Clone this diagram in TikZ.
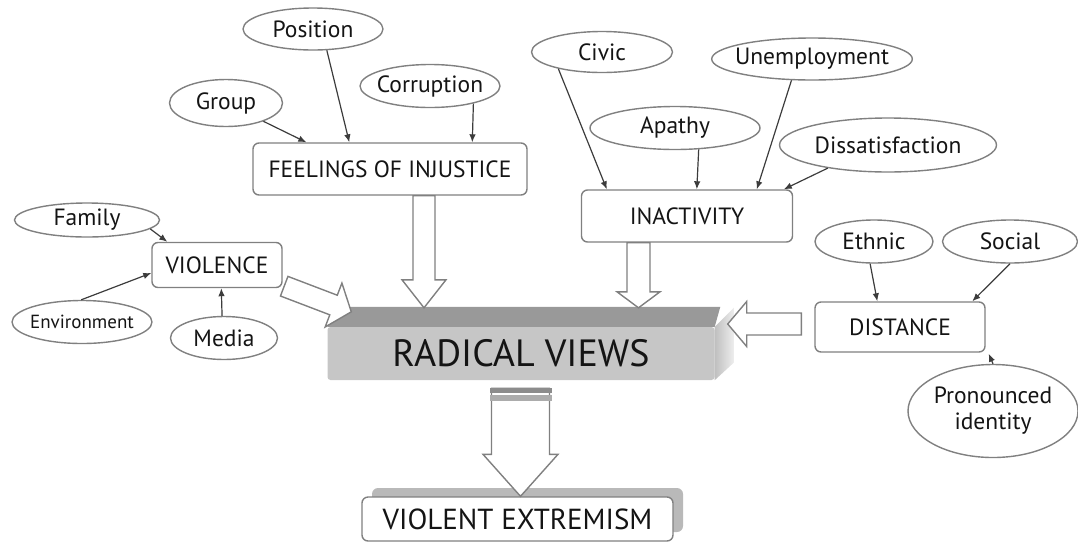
\documentclass[tikz,border=0pt]{standalone}
\usepackage{fontspec}
\setmainfont{PT Sans}
\usepackage{tikz}
\usetikzlibrary{arrows.meta,positioning,calc,shapes.geometric,shadows}
\definecolor{ink}{HTML}{141414}
\definecolor{edge}{HTML}{808080}
\definecolor{wire}{HTML}{3C3C3C}
\newcommand{\fatarrow}[5]{% from, to, half shaft, half head, head length
  \draw[hollow] let \p1=(#1), \p2=(#2),
    \n1={atan2(\y2-\y1,\x2-\x1)}, \n2={veclen(\x2-\x1,\y2-\y1)} in
    ([shift={(\p1)},rotate=\n1]0,#3) -- ([shift={(\p1)},rotate=\n1]\n2-#5,#3)
    -- ([shift={(\p1)},rotate=\n1]\n2-#5,#4) -- ([shift={(\p1)},rotate=\n1]\n2,0)
    -- ([shift={(\p1)},rotate=\n1]\n2-#5,-#4) -- ([shift={(\p1)},rotate=\n1]\n2-#5,-#3)
    -- ([shift={(\p1)},rotate=\n1]0,-#3) -- cycle;}

\begin{document}
\begin{tikzpicture}[
  x=1pt,y=-1pt,
  every node/.style={text=ink,align=center},
  factor/.style={ellipse,draw=edge,line width=1.4pt,fill=white,inner sep=-6pt,font=\fontsize{23.5}{26}\selectfont},
  concept/.style={rectangle,rounded corners=6pt,draw=edge,line width=1.4pt,fill=white,inner sep=0pt,font=\fontsize{23.5}{26}\selectfont},
  arrow/.style={-{Latex[length=8pt,width=6.5pt]},line width=1.2pt,color=wire},
  hollow/.style={draw=edge,line width=1.4pt,fill=white,line join=miter}
]
\useasboundingbox (0,0) rectangle (1078,547);

% central block
\node[rectangle,rounded corners=3pt,fill=gray!45,minimum width=387pt,minimum height=53pt,font=\fontsize{38}{42}\selectfont] (radical) at (521,353.5) {RADICAL VIEWS};
\fill[gray!80] (radical.north west) -- ++(14,-20) -- ++(379,0) -- (radical.north east) -- cycle;
\shade[left color=gray!50,right color=gray!12] (radical.north east) -- ++(20,-20) -- ++(0,55) -- (radical.south east) -- cycle;

% outcome
\node[concept,minimum width=311pt,minimum height=44pt,font=\fontsize{29}{32}\selectfont,
  general shadow={fill=gray!55,draw=none,shadow xshift=10pt,shadow yshift=9pt}] (extrem) at (517.5,519) {VIOLENT EXTREMISM};

% four causes
\node[concept,minimum width=274pt,minimum height=52pt] (feel) at (390,169) {FEELINGS OF INJUSTICE};
\node[concept,minimum width=211pt,minimum height=52pt] (inact) at (687,216) {INACTIVITY};
\node[concept,minimum width=130pt,minimum height=45pt] (viol) at (217,265) {VIOLENCE};
\node[concept,minimum width=170pt,minimum height=50pt] (dist) at (900,327) {DISTANCE};

% factors
\node[factor,minimum width=140pt,minimum height=42pt] (position) at (313,29) {Position};
\node[factor,minimum width=140pt,minimum height=43pt] (corruption) at (430,86) {Corruption};
\node[factor,minimum width=113pt,minimum height=47pt] (group) at (226,103) {Group};
\node[factor,minimum width=141pt,minimum height=41pt] (civic) at (602,52) {Civic};
\node[factor,minimum width=195pt,minimum height=42pt] (unemp) at (812,59) {Unemployment};
\node[factor,minimum width=170pt,minimum height=43pt] (apathy) at (675,128) {Apathy};
\node[factor,minimum width=217pt,minimum height=54pt] (dissat) at (888,145) {Dissatisfaction};
\node[factor,minimum width=145pt,minimum height=34pt] (family) at (87,220) {Family};
\node[factor,minimum width=140pt,minimum height=43pt,font=\fontsize{19}{22}\selectfont] (environ) at (82,322) {Environment};
\node[factor,minimum width=107pt,minimum height=43pt] (media) at (224,338) {Media};
\node[factor,minimum width=118pt,minimum height=43pt] (ethnic) at (874,241.5) {Ethnic};
\node[factor,minimum width=135pt,minimum height=43pt] (social) at (1010,241.5) {Social};
\node[factor,minimum width=170pt,minimum height=93pt] (pronounced) at (993,411) {Pronounced\\identity};

% thin connectors
\draw[arrow] (group) -- ([xshift=54pt]feel.north west);
\draw[arrow] (position.-57) -- ([xshift=97pt]feel.north west);
\draw[arrow] (corruption.-22) -- ([xshift=220pt]feel.north west);
\draw[arrow] (civic.-159) -- ([xshift=26pt]inact.north west);
\draw[arrow] (apathy.-42) -- ([xshift=116pt]inact.north west);
\draw[arrow] (unemp.-134) -- ([xshift=176pt]inact.north west);
\draw[arrow] (dissat.-159) -- ([xshift=203pt]inact.north west);
\draw[arrow] (family.-8) -- ([xshift=16pt]viol.north west);
\draw[arrow] (environ.92) -- ([yshift=-8pt]viol.west);
\draw[arrow] (media.95) -- ([xshift=70pt]viol.south west);
\draw[arrow] (ethnic.-100) -- ([xshift=63pt]dist.north west);
\draw[arrow] (social.-90) -- ([xshift=158pt]dist.north west);
\draw[arrow] (pronounced.north) -- ([xshift=3pt,yshift=-1pt]dist.south east);

% block arrows into and out of the central block
\coordinate (rtop) at ([yshift=19pt]radical.north);
\coordinate (rside) at ([xshift=13pt]radical.east);
\coordinate (fsrc) at ([xshift=34pt]feel.south);
\coordinate (isrc) at ([xshift=-48.5pt]inact.south);
\coordinate (vsrc) at ([xshift=1.5pt,yshift=2pt]viol.south east);
\coordinate (vtip) at ([xshift=24pt,yshift=15pt]radical.north west);
\coordinate (dsrc) at ([xshift=-13pt,yshift=3pt]dist.west);
\coordinate (xsrc) at ([xshift=-0.5pt,yshift=-8pt]radical.south);
\fatarrow{fsrc}{fsrc |- rtop}{11}{22}{28}
\fatarrow{isrc}{isrc |- rtop}{11.5}{21.5}{16}
\fatarrow{vsrc}{vtip}{10.5}{23.5}{19}
\fatarrow{dsrc}{dsrc -| rside}{11}{22.5}{19}
\fatarrow{xsrc}{xsrc |- extrem.north}{29}{37.5}{42}
\fill[gray!90] ([xshift=-31pt]xsrc) rectangle ++(62,5);
\fill[gray!65] ([xshift=-31pt,yshift=-7pt]xsrc) rectangle ++(62,6);
\end{tikzpicture}
\end{document}
